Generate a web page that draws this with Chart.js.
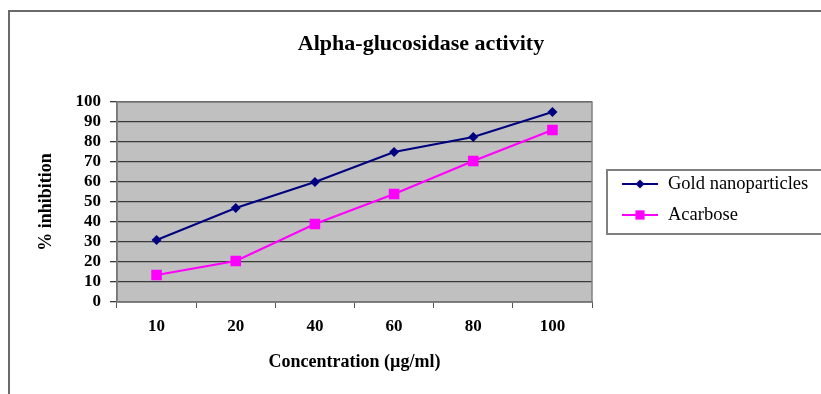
<!DOCTYPE html>
<html>
<head>
<meta charset="utf-8">
<script src="https://cdn.jsdelivr.net/npm/chart.js@4"></script>
<style>
  html, body { margin: 0; padding: 0; background: #fff; }
  #wrap { width: 821px; height: 394px; }
</style>
</head>
<body>
<div id="wrap"><canvas id="grafico" width="821" height="394"></canvas></div>
<script>
// datos
const concentraciones = ['10', '20', '40', '60', '80', '100'];
const oro = [31, 47, 60, 75, 82.5, 95];
const acarbosa = [13.5, 20.5, 39, 54, 70.5, 86];
const nombres = ['Gold nanoparticles', 'Acarbose'];
const titulo = 'Alpha-glucosidase activity';

const serif = '"Liberation Serif", "Times New Roman", serif';

// fondo gris, marco y leyenda
const decorado = {
    id: 'decorado',
    beforeDraw(chart) {
        const { ctx, chartArea: a } = chart;
        ctx.save();
        ctx.fillStyle = '#c0c0c0';
        ctx.fillRect(a.left, a.top, a.right - a.left, a.bottom - a.top);
        ctx.restore();
    },
    afterDraw(chart) {
        const { ctx, chartArea: a } = chart;
        ctx.save();
        // borde del área
        ctx.strokeStyle = '#808080';
        ctx.lineWidth = 1.5;
        ctx.strokeRect(a.left, a.top, a.right - a.left, a.bottom - a.top);
        // marco exterior
        ctx.strokeStyle = '#6a6a6a';
        ctx.lineWidth = 2;
        ctx.beginPath();
        ctx.moveTo(9, 394);
        ctx.lineTo(9, 11);
        ctx.lineTo(821, 11);
        ctx.stroke();
        // título
        ctx.fillStyle = '#000';
        ctx.font = 'bold 22px ' + serif;
        ctx.textAlign = 'center';
        ctx.textBaseline = 'middle';
        ctx.fillText(titulo, 421, 44);
        // leyenda
        ctx.strokeStyle = '#808080';
        ctx.lineWidth = 2;
        ctx.strokeRect(607, 170, 230, 64);
        ctx.font = '18.5px ' + serif;
        ctx.textAlign = 'left';
        const filas = [184, 215];
        chart.data.datasets.forEach((ds, i) => {
            const y = filas[i];
            ctx.strokeStyle = ds.borderColor;
            ctx.lineWidth = 2;
            ctx.beginPath();
            ctx.moveTo(622, y);
            ctx.lineTo(658, y);
            ctx.stroke();
            ctx.fillStyle = ds.backgroundColor;
            Chart.helpers.drawPoint(ctx, {
                pointStyle: ds.pointStyle,
                rotation: 0,
                radius: i === 0 ? 4.5 : 6.5,
                borderWidth: 0
            }, 640, y);
            ctx.fillStyle = '#000';
            ctx.fillText(ds.label, 668, y);
        });
        ctx.restore();
    }
};

new Chart(document.getElementById('grafico'), {
    type: 'line',
    data: {
        labels: concentraciones,
        datasets: [{
            label: nombres[0],
            data: oro,
            borderColor: '#000080',
            backgroundColor: '#000080',
            borderWidth: 2,
            pointStyle: 'rectRot',
            pointRadius: 5,
            pointBorderWidth: 0,
            tension: 0
        }, {
            label: nombres[1],
            data: acarbosa,
            borderColor: '#ff00ff',
            backgroundColor: '#ff00ff',
            borderWidth: 2,
            pointStyle: 'rect',
            pointRadius: 7.5,
            pointBorderWidth: 0,
            tension: 0
        }]
    },
    options: {
        responsive: false,
        animation: false,
        layout: { padding: { left: 36, right: 229, top: 102, bottom: 21 } },
        plugins: {
            legend: { display: false },
            title: { display: false },
            tooltip: { enabled: false }
        },
        scales: {
            x: {
                offset: true,
                grid: {
                    offset: true,
                    drawOnChartArea: false,
                    drawTicks: true,
                    tickLength: 6,
                    color: '#555'
                },
                border: { color: '#555', width: 1.5 },
                ticks: {
                    color: '#000',
                    font: { family: serif, size: 17, weight: 'bold' },
                    padding: 8
                },
                title: {
                    display: true,
                    text: 'Concentration (µg/ml)',
                    color: '#000',
                    font: { family: serif, size: 18, weight: 'bold' },
                    padding: { top: 0, bottom: 0 }
                },
                afterFit(s) { s.height = 71; }
            },
            y: {
                min: 0,
                max: 100,
                ticks: {
                    stepSize: 10,
                    autoSkip: false,
                    color: '#000',
                    font: { family: serif, size: 17, weight: 'bold' },
                    padding: 9
                },
                grid: {
                    color: '#3a3a3a',
                    lineWidth: 1.3,
                    tickLength: 7
                },
                border: { color: '#555', width: 1.5 },
                title: {
                    display: true,
                    text: '% inhibition',
                    color: '#000',
                    font: { family: serif, size: 18, weight: 'bold' },
                    padding: { top: 0, bottom: 0 }
                },
                afterFit(s) { s.width = 81; }
            }
        }
    },
    plugins: [decorado]
});
</script>
</body>
</html>
